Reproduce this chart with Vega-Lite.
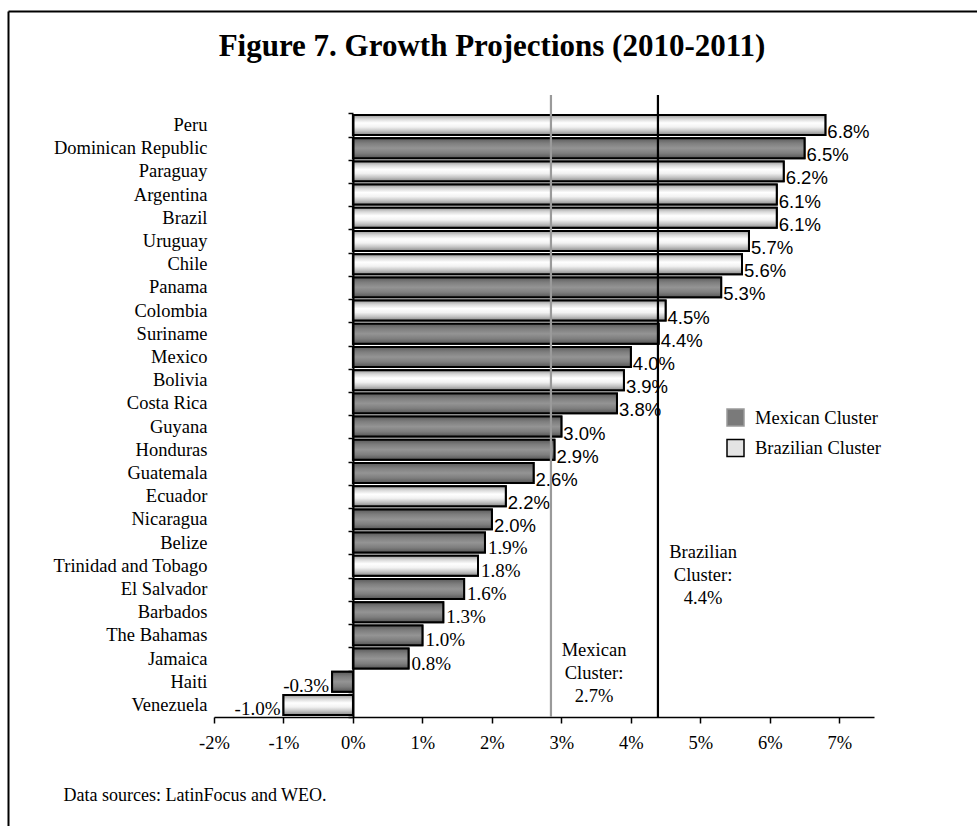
{
  "$schema": "https://vega.github.io/schema/vega-lite/v6.json",
  "width": 660,
  "height": 622,
  "autosize": {"type": "none"},
  "padding": {"left": 214, "top": 95, "right": 103, "bottom": 109},
  "background": "white",
  "title": {"text": "Figure 7. Growth Projections (2010-2011)", "font": "Liberation Serif", "fontSize": 31, "fontWeight": "bold", "color": "black", "anchor": "middle", "frame": "group", "dx": -52, "offset": -76, "baseline": "alphabetic"},
  "datasets": {
    "growth": [
      {"country": "Peru", "value": 6.8, "cluster": "Brazilian Cluster"},
      {"country": "Dominican Republic", "value": 6.5, "cluster": "Mexican Cluster"},
      {"country": "Paraguay", "value": 6.2, "cluster": "Brazilian Cluster"},
      {"country": "Argentina", "value": 6.1, "cluster": "Brazilian Cluster"},
      {"country": "Brazil", "value": 6.1, "cluster": "Brazilian Cluster"},
      {"country": "Uruguay", "value": 5.7, "cluster": "Brazilian Cluster"},
      {"country": "Chile", "value": 5.6, "cluster": "Brazilian Cluster"},
      {"country": "Panama", "value": 5.3, "cluster": "Mexican Cluster"},
      {"country": "Colombia", "value": 4.5, "cluster": "Brazilian Cluster"},
      {"country": "Suriname", "value": 4.4, "cluster": "Mexican Cluster"},
      {"country": "Mexico", "value": 4.0, "cluster": "Mexican Cluster"},
      {"country": "Bolivia", "value": 3.9, "cluster": "Brazilian Cluster"},
      {"country": "Costa Rica", "value": 3.8, "cluster": "Mexican Cluster"},
      {"country": "Guyana", "value": 3.0, "cluster": "Mexican Cluster"},
      {"country": "Honduras", "value": 2.9, "cluster": "Mexican Cluster"},
      {"country": "Guatemala", "value": 2.6, "cluster": "Mexican Cluster"},
      {"country": "Ecuador", "value": 2.2, "cluster": "Brazilian Cluster"},
      {"country": "Nicaragua", "value": 2.0, "cluster": "Mexican Cluster"},
      {"country": "Belize", "value": 1.9, "cluster": "Mexican Cluster"},
      {"country": "Trinidad and Tobago", "value": 1.8, "cluster": "Brazilian Cluster"},
      {"country": "El Salvador", "value": 1.6, "cluster": "Mexican Cluster"},
      {"country": "Barbados", "value": 1.3, "cluster": "Mexican Cluster"},
      {"country": "The Bahamas", "value": 1.0, "cluster": "Mexican Cluster"},
      {"country": "Jamaica", "value": 0.8, "cluster": "Mexican Cluster"},
      {"country": "Haiti", "value": -0.3, "cluster": "Mexican Cluster"},
      {"country": "Venezuela", "value": -1.0, "cluster": "Brazilian Cluster"}
    ],
    "clusterlines": [
      {"cluster": "Mexican Cluster", "value": 2.85},
      {"cluster": "Brazilian Cluster", "value": 4.39}
    ],
    "notes": [
      {"cluster": "Brazilian Cluster", "country": "Trinidad and Tobago", "value": 5.04, "note": "Brazilian\nCluster:\n4.4%"},
      {"cluster": "Mexican Cluster", "country": "Jamaica", "value": 3.47, "note": "Mexican\nCluster:\n2.7%"}
    ]
  },
  "layer": [
    {
      "layer": [
        {
          "data": {"name": "growth"},
          "mark": {"type": "bar", "stroke": "black", "strokeWidth": 2},
          "encoding": {
            "y": {
              "field": "country", "type": "nominal",
              "scale": {"domain": ["Peru", "Dominican Republic", "Paraguay", "Argentina", "Brazil", "Uruguay", "Chile", "Panama", "Colombia", "Suriname", "Mexico", "Bolivia", "Costa Rica", "Guyana", "Honduras", "Guatemala", "Ecuador", "Nicaragua", "Belize", "Trinidad and Tobago", "El Salvador", "Barbados", "The Bahamas", "Jamaica", "Haiti", "Venezuela"], "paddingInner": 0.14, "paddingOuter": 0.475, "align": 0.907, "round": false},
              "axis": {"orient": "left", "title": null, "domain": false, "ticks": false, "grid": false, "labelPadding": 7, "labelFont": "Liberation Serif", "labelFontSize": 18.5, "labelColor": "black", "labelLimit": 400}
            },
            "x": {
              "field": "value", "type": "quantitative",
              "scale": {"domain": [-2, 7.5], "nice": false, "zero": false},
              "axis": {"orient": "bottom", "values": [-2, -1, 0, 1, 2, 3, 4, 5, 6, 7], "labelExpr": "datum.value + '%'", "grid": false, "domainColor": "black", "domainWidth": 1.5, "tickColor": "black", "tickWidth": 1.5, "tickSize": 6, "labelFont": "Liberation Serif", "labelFontSize": 18.5, "labelColor": "black", "labelPadding": 10, "labelFlush": false, "title": "Data sources: LatinFocus and WEO.", "titleFont": "Liberation Serif", "titleFontSize": 18, "titleFontWeight": "normal", "titleColor": "black", "titleX": -151, "titleY": 78, "titleAlign": "left", "titleBaseline": "middle", "titleAnchor": "start"}
            },
            "fill": {
              "field": "cluster", "type": "nominal",
              "scale": {"domain": ["Mexican Cluster", "Brazilian Cluster"], "range": ["#7a7a7a", "#e4e4e4"]},
              "legend": {"orient": "none", "legendX": 512, "legendY": 313, "title": null, "symbolType": "square", "symbolSize": 289, "symbolStrokeColor": "black", "symbolStrokeWidth": 1.5, "labelFont": "Liberation Serif", "labelFontSize": 18.5, "labelColor": "black", "labelOffset": 10, "rowPadding": 7.5, "padding": 0,
                "encode": {"symbols": {
                  "enter": {"fill": {"signal": "datum.value === 'Mexican Cluster' ? {gradient: 'linear', x1: 0, y1: 0, x2: 0, y2: 1, stops: [{offset: 0, color: '#5a5a5a'}, {offset: 0.5, color: '#959595'}, {offset: 1, color: '#555555'}]} : {gradient: 'linear', x1: 0, y1: 0, x2: 0, y2: 1, stops: [{offset: 0, color: '#9a9a9a'}, {offset: 0.4, color: '#ffffff'}, {offset: 1, color: '#8a8a8a'}]}"}},
                  "update": {"fill": {"signal": "datum.value === 'Mexican Cluster' ? {gradient: 'linear', x1: 0, y1: 0, x2: 0, y2: 1, stops: [{offset: 0, color: '#5a5a5a'}, {offset: 0.5, color: '#959595'}, {offset: 1, color: '#555555'}]} : {gradient: 'linear', x1: 0, y1: 0, x2: 0, y2: 1, stops: [{offset: 0, color: '#9a9a9a'}, {offset: 0.4, color: '#ffffff'}, {offset: 1, color: '#8a8a8a'}]}"}, "stroke": {"value": "black"}, "strokeWidth": {"value": 1.5}}}}}
            }
          }
        },
        {
          "data": {"name": "growth"},
          "transform": [{"filter": "datum.cluster == 'Mexican Cluster'"}],
          "mark": {"type": "bar", "stroke": "black", "strokeWidth": 2, "fill": {"gradient": "linear", "x1": 0, "y1": 0, "x2": 0, "y2": 1, "stops": [{"offset": 0, "color": "#5a5a5a"}, {"offset": 0.25, "color": "#7e7e7e"}, {"offset": 0.5, "color": "#949494"}, {"offset": 0.75, "color": "#7e7e7e"}, {"offset": 1, "color": "#555555"}]}},
          "encoding": {
            "y": {"field": "country", "type": "nominal"},
            "x": {"field": "value", "type": "quantitative"}
          }
        },
        {
          "data": {"name": "growth"},
          "transform": [{"filter": "datum.cluster == 'Brazilian Cluster'"}],
          "mark": {"type": "bar", "stroke": "black", "strokeWidth": 2, "fill": {"gradient": "linear", "x1": 0, "y1": 0, "x2": 0, "y2": 1, "stops": [{"offset": 0, "color": "#9a9a9a"}, {"offset": 0.2, "color": "#d8d8d8"}, {"offset": 0.4, "color": "#ffffff"}, {"offset": 0.6, "color": "#f2f2f2"}, {"offset": 0.8, "color": "#c4c4c4"}, {"offset": 1, "color": "#8a8a8a"}]}},
          "encoding": {
            "y": {"field": "country", "type": "nominal"},
            "x": {"field": "value", "type": "quantitative"}
          }
        },
        {
          "data": {"name": "growth"},
          "transform": [
            {"filter": "datum.value >= 2"},
            {"calculate": "replace(format(datum.value, '.1f'), '\u2212', '-') + '%'", "as": "label"}
          ],
          "mark": {"type": "text", "align": "left", "baseline": "middle", "dx": 2, "dy": 7, "font": "Liberation Sans", "fontSize": 18.5, "color": "black"},
          "encoding": {
            "y": {"field": "country", "type": "nominal"},
            "x": {"field": "value", "type": "quantitative"},
            "text": {"field": "label"}
          }
        },
        {
          "data": {"name": "growth"},
          "transform": [
            {"filter": "datum.value > 0 && datum.value < 2"},
            {"calculate": "replace(format(datum.value, '.1f'), '\u2212', '-') + '%'", "as": "label"}
          ],
          "mark": {"type": "text", "align": "left", "baseline": "middle", "dx": 3, "dy": 5, "font": "Liberation Serif", "fontSize": 19, "color": "black"},
          "encoding": {
            "y": {"field": "country", "type": "nominal"},
            "x": {"field": "value", "type": "quantitative"},
            "text": {"field": "label"}
          }
        },
        {
          "data": {"name": "growth"},
          "transform": [
            {"filter": "datum.value < 0"},
            {"calculate": "replace(format(datum.value, '.1f'), '\u2212', '-') + '%'", "as": "label"}
          ],
          "mark": {"type": "text", "align": "right", "baseline": "middle", "dx": -3, "dy": 4, "font": "Liberation Serif", "fontSize": 19, "color": "black"},
          "encoding": {
            "y": {"field": "country", "type": "nominal"},
            "x": {"field": "value", "type": "quantitative"},
            "text": {"field": "label"}
          }
        },
        {
          "data": {"name": "clusterlines"},
          "mark": {"type": "rule", "strokeWidth": 2.2},
          "encoding": {
            "x": {"field": "value", "type": "quantitative"},
            "stroke": {"field": "cluster", "type": "nominal", "scale": {"domain": ["Mexican Cluster", "Brazilian Cluster"], "range": ["#9a9a9a", "#000000"]}, "legend": null}
          }
        },
        {
          "data": {"name": "notes"},
          "transform": [{"filter": "datum.cluster == 'Brazilian Cluster'"}],
          "mark": {"type": "text", "align": "center", "baseline": "middle", "lineBreak": "\n", "lineHeight": 23, "dy": -14, "font": "Liberation Serif", "fontSize": 18.5, "color": "black"},
          "encoding": {
            "y": {"field": "country", "type": "nominal"},
            "x": {"field": "value", "type": "quantitative"},
            "text": {"field": "note"}
          }
        },
        {
          "data": {"name": "notes"},
          "transform": [{"filter": "datum.cluster == 'Mexican Cluster'"}],
          "mark": {"type": "text", "align": "center", "baseline": "middle", "lineBreak": "\n", "lineHeight": 23, "dy": -9, "font": "Liberation Serif", "fontSize": 18.5, "color": "black"},
          "encoding": {
            "y": {"field": "country", "type": "nominal"},
            "x": {"field": "value", "type": "quantitative"},
            "text": {"field": "note"}
          }
        }
      ]
    },
    {
      "data": {"name": "growth"},
      "mark": {"type": "point", "opacity": 0},
      "encoding": {
        "y": {
          "field": "country", "type": "nominal",
          "scale": {"domain": ["Peru", "Dominican Republic", "Paraguay", "Argentina", "Brazil", "Uruguay", "Chile", "Panama", "Colombia", "Suriname", "Mexico", "Bolivia", "Costa Rica", "Guyana", "Honduras", "Guatemala", "Ecuador", "Nicaragua", "Belize", "Trinidad and Tobago", "El Salvador", "Barbados", "The Bahamas", "Jamaica", "Haiti", "Venezuela"], "type": "band", "range": [18.4, 622], "paddingInner": 0, "paddingOuter": 0, "round": false},
          "axis": {"orient": "left", "offset": -139, "title": null, "labels": false, "grid": false, "domain": true, "domainColor": "black", "domainWidth": 2, "ticks": true, "tickColor": "black", "tickWidth": 1.5, "tickSize": 5, "tickBand": "extent", "zindex": 2}
        }
      }
    },
    {
      "data": {"values": [{}]},
      "mark": {"type": "point", "opacity": 0},
      "encoding": {
        "x": {"datum": 0.5, "type": "quantitative", "scale": {"domain": [0, 1], "range": [-206, 763], "nice": false, "zero": false}, "axis": {"orient": "top", "offset": 84, "title": null, "labels": false, "ticks": false, "grid": false, "domain": true, "domainColor": "black", "domainWidth": 2}},
        "y": {"datum": 0.5, "type": "quantitative", "scale": {"domain": [0, 1], "range": [-84, 731], "nice": false, "zero": false}, "axis": {"orient": "left", "offset": 206, "title": null, "labels": false, "ticks": false, "grid": false, "domain": true, "domainColor": "black", "domainWidth": 2}}
      }
    }
  ],
  "resolve": {"scale": {"x": "independent", "y": "independent"}, "axis": {"x": "independent", "y": "independent"}},
  "config": {"view": {"stroke": null}}
}
